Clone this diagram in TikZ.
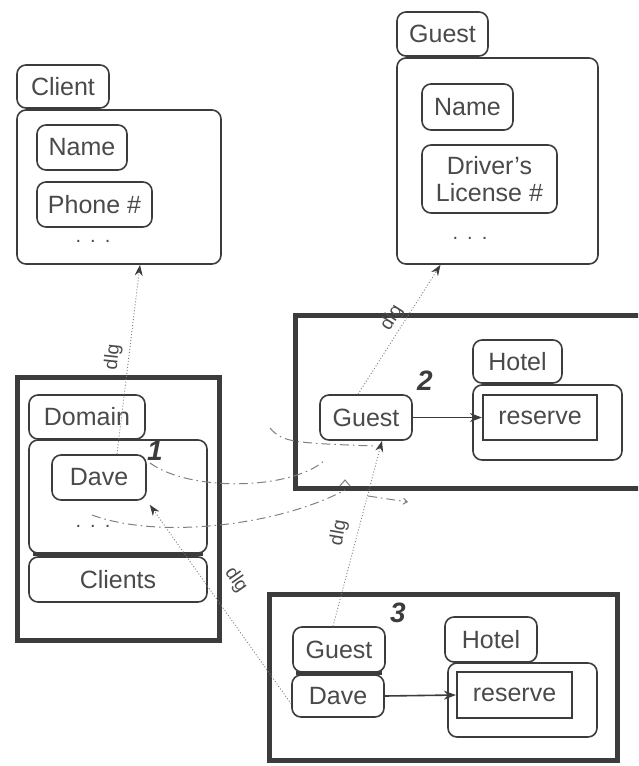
\documentclass[tikz,border=0pt]{standalone}
\usepackage{fontspec}
\setmainfont{Liberation Sans}
\usetikzlibrary{arrows.meta}
\definecolor{ink}{HTML}{3C3C3C}
\definecolor{txt}{HTML}{4A4A4A}
\definecolor{faint}{HTML}{808080}
\tikzset{
  lbl/.style={text=txt, font=\fontsize{25}{29}\selectfont},
  rbox/.style={lbl, draw=ink, line width=1.6pt, rounded corners=9pt, inner sep=0pt},
  sbox/.style={lbl, draw=ink, line width=2.2pt, inner sep=0pt},
  frame/.style={draw=ink, line width=5pt},
  divider/.style={draw=ink, line width=4pt},
  flow/.style={draw=ink, line width=1.6pt, -{Stealth[length=12pt,width=9pt]}},
  dlgline/.style={draw=faint, line width=0.9pt, dash pattern=on 1pt off 2pt,
    -{Stealth[length=11pt,width=8pt,color=ink]}},
  dlgtext/.style={text=txt, font=\fontsize{19}{22}\selectfont, inner sep=0pt},
  stage/.style={text=ink, font=\fontsize{28}{30}\selectfont\bfseries\itshape, inner sep=0pt},
  trail/.style={draw=faint, line width=1pt, dash pattern=on 9pt off 4pt on 1.5pt off 4pt},
  dotsrow/.style={text=txt, font=\fontsize{20}{22}\selectfont, inner sep=0pt},
}
\begin{document}
\begin{tikzpicture}[x=1pt,y=-1pt]
\useasboundingbox (0,0) rectangle (638,766);
\clip (0,0) rectangle (638,766);

% --- Client type ---
\node[rbox, minimum width=92, minimum height=43] (clienthdr) at (63,86.5) {Client};
\node[rbox, minimum width=204, minimum height=154] (clientbody) at (119,187) {};
\node[rbox, minimum width=90, minimum height=45] (cname) at (82,147.5) {Name};
\node[rbox, minimum width=115, minimum height=45] (cphone) at (94.5,204.5) {Phone \#};
\node[dotsrow] (cdots) at (93,241) {.\hspace{9pt}.\hspace{9pt}.};

% --- Guest type ---
\node[rbox, minimum width=91, minimum height=44] (guesthdr) at (442.5,34) {Guest};
\node[rbox, minimum width=201, minimum height=206] (guestbody) at (497.5,161) {};
\node[rbox, minimum width=91, minimum height=46] (gname) at (467.5,107) {Name};
\node[rbox, minimum width=135, minimum height=68, align=center] (glicense) at (489.5,179)
  {Driver's\\[-2pt]License \#};
\node[dotsrow] (gdots) at (470,238) {.\hspace{9pt}.\hspace{9pt}.};

% --- Stage 1: domain ---
\draw[frame] (17.5,377.5) rectangle (219.5,640.5);
\node[rbox, minimum width=116, minimum height=44] (domainhdr) at (87,417) {Domain};
\node[rbox, minimum width=178, minimum height=113] (domainbody) at (118,496.5) {};
\node[rbox, minimum width=94, minimum height=45] (dave1) at (99,477.5) {Dave};
\node[dotsrow] (ddots) at (93,526) {.\hspace{9pt}.\hspace{9pt}.};
\node[rbox, minimum width=178, minimum height=45] (clients) at (118,579.5) {Clients};
\draw[divider] ([xshift=5pt]domainbody.south west) -- ([xshift=-5pt]domainbody.south east);
\node[stage] (one) at (155,451) {1};

% --- Stage 2 ---
\draw[frame] (295.5,315.5) rectangle (645,488.5);
\node[rbox, minimum width=89, minimum height=43] (hotel2hdr) at (517.5,361.5) {Hotel};
\node[rbox, minimum width=149, minimum height=75] (hotel2body) at (547.5,422.5) {};
\node[sbox, minimum width=114, minimum height=45] (reserve2) at (540,417.5) {reserve};
\node[rbox, minimum width=92, minimum height=45] (guest2) at (366,417.5) {Guest};
\node[stage] (two) at (425,381) {2};
\draw[flow] (guest2.east) -- (reserve2.west);

% --- Stage 3 ---
\draw[frame] (269.5,594.5) rectangle (617.5,760.5);
\node[rbox, minimum width=92, minimum height=45] (guest3) at (339,649.5) {Guest};
\node[rbox, minimum width=92, minimum height=42] (dave3) at (338,696) {Dave};
\draw[divider] ([xshift=4pt]guest3.south west) -- ([xshift=-4pt]guest3.south east);
\node[rbox, minimum width=92, minimum height=45] (hotel3hdr) at (491,639.5) {Hotel};
\node[rbox, minimum width=149, minimum height=74] (hotel3body) at (522.5,700) {};
\node[sbox, minimum width=115, minimum height=46] (reserve3) at (514.5,695) {reserve};
\node[stage] (three) at (398,613) {3};
\draw[flow] (dave3.east) -- (reserve3.west);

% --- delegation links ---
\draw[dlgline] ([xshift=18pt]dave1.north) -- ([xshift=21pt]clientbody.south);
\node[dlgtext, rotate=84] (dlg1) at (113,357) {dlg};

\draw[dlgline] ([xshift=-8pt]guest2.north) -- ([xshift=-57pt]guestbody.south);
\node[dlgtext, rotate=58] (dlg2) at (392,318) {dlg};

\draw[dlgline] ([xshift=-6pt]guest3.north) -- ([xshift=16pt]guest2.south);
\node[dlgtext, rotate=80] (dlg3) at (339,533) {dlg};

\draw[dlgline] ([yshift=-8pt]dave3.west) -- ([xshift=3pt,yshift=-4pt]dave1.south east);
\node[dlgtext, rotate=-55] (dlg4) at (236,580) {dlg};

% --- dash-dot transition trails ---
\draw[trail] (150,463) .. controls (190,492) and (290,490) .. (324,461);
\draw[trail] (270,428) .. controls (282,442) and (292,443) .. (374,446);
\draw[trail] (92,515) .. controls (160,540) and (280,525) .. (345,490);
\draw[faint, line width=1pt] (340,486) -- (345,480) -- (350,486);
\draw[trail, -{Straight Barb[length=4pt,width=6pt]}] (368,496) -- (408,502);
\end{tikzpicture}
\end{document}
